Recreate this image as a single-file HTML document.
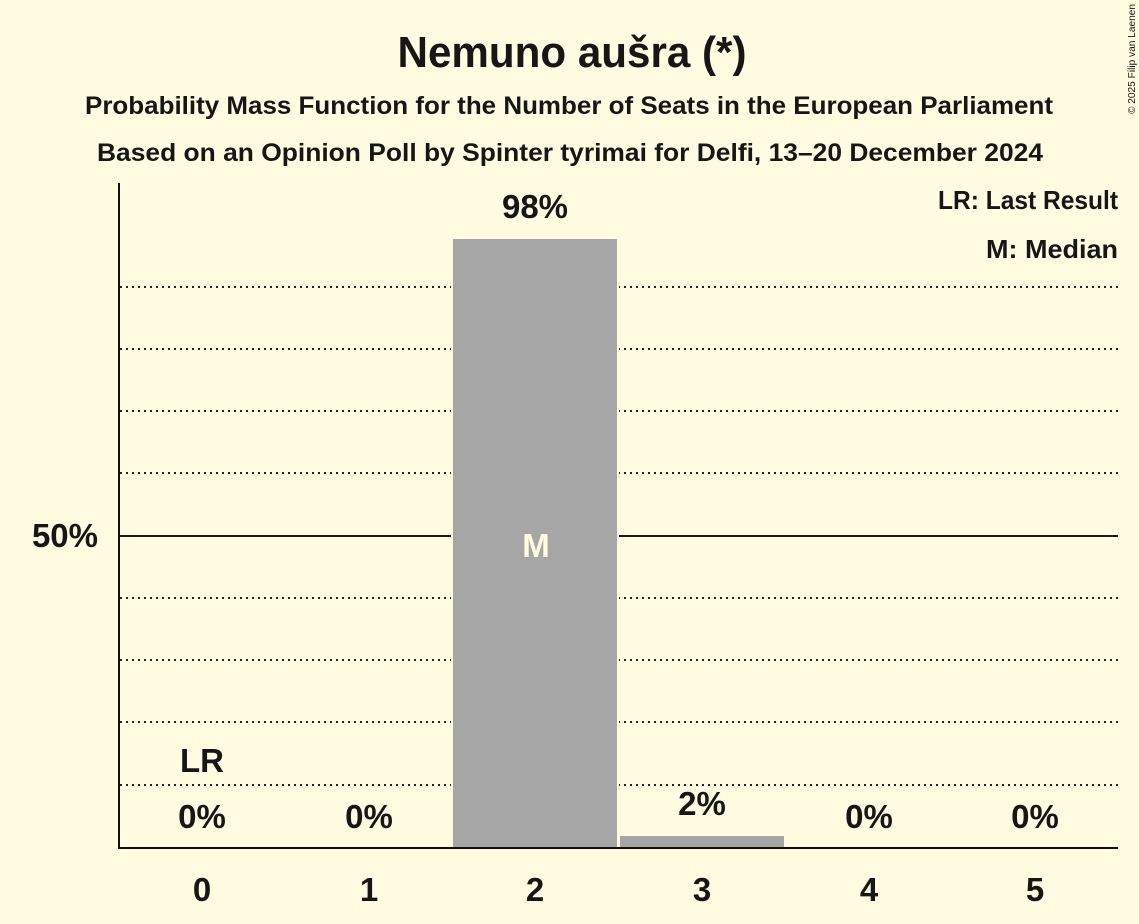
<!DOCTYPE html>
<html>
<head>
<meta charset="utf-8">
<style>
  html, body { margin:0; padding:0; background:#FFFCE1; }
  svg { display:block; }
  text { font-family: "Liberation Sans", "DejaVu Sans", sans-serif; font-weight:bold; fill:#161616; }
</style>
</head>
<body>
<svg width="1139" height="924" viewBox="0 0 1139 924" xmlns="http://www.w3.org/2000/svg">
  <rect x="0" y="0" width="1139" height="924" fill="#FFFCE1"/>

  <!-- Titles -->
  <text x="572" y="67" font-size="44" text-anchor="middle" textLength="349" lengthAdjust="spacingAndGlyphs">Nemuno aušra (*)</text>
  <text x="569" y="114" font-size="25" text-anchor="middle" textLength="968" lengthAdjust="spacingAndGlyphs">Probability Mass Function for the Number of Seats in the European Parliament</text>
  <text x="570" y="161" font-size="25" text-anchor="middle" textLength="946" lengthAdjust="spacingAndGlyphs">Based on an Opinion Poll by Spinter tyrimai for Delfi, 13–20 December 2024</text>

  <!-- copyright -->
  <text x="0" y="0" font-size="10" style="font-weight:normal" fill="#555" transform="translate(1135,114) rotate(-90)" textLength="110" lengthAdjust="spacingAndGlyphs">© 2025 Filip van Laenen</text>

  <!-- dotted gridlines -->
  <g stroke="#222" stroke-width="2" stroke-dasharray="2,4">
    <line x1="120" y1="287" x2="1118" y2="287"/>
    <line x1="120" y1="349" x2="1118" y2="349"/>
    <line x1="120" y1="411" x2="1118" y2="411"/>
    <line x1="120" y1="473" x2="1118" y2="473"/>
    <line x1="120" y1="598" x2="1118" y2="598"/>
    <line x1="120" y1="660" x2="1118" y2="660"/>
    <line x1="120" y1="722" x2="1118" y2="722"/>
    <line x1="120" y1="785" x2="1118" y2="785"/>
  </g>
  <!-- 50% line -->
  <line x1="120" y1="536" x2="1118" y2="536" stroke="#1a1a1a" stroke-width="2"/>

  <!-- bars -->
  <rect x="453" y="239" width="164" height="609" fill="#A6A6A6" stroke="#FFFCE1" stroke-width="4"/>
  <rect x="620" y="836" width="164" height="12" fill="#A6A6A6" stroke="#FFFCE1" stroke-width="4"/>
  <rect x="453" y="239" width="164" height="609" fill="#A6A6A6"/>
  <rect x="620" y="836" width="164" height="12" fill="#A6A6A6"/>

  <!-- axes -->
  <line x1="119" y1="183" x2="119" y2="849" stroke="#111" stroke-width="2"/>
  <line x1="118" y1="848" x2="1118" y2="848" stroke="#111" stroke-width="2"/>

  <!-- y label -->
  <text x="98" y="547" font-size="33" text-anchor="end">50%</text>

  <!-- legend -->
  <text x="1118" y="209" font-size="26" text-anchor="end" textLength="180" lengthAdjust="spacingAndGlyphs">LR: Last Result</text>
  <text x="1118" y="258" font-size="26" text-anchor="end" textLength="132" lengthAdjust="spacingAndGlyphs">M: Median</text>

  <!-- bar value labels -->
  <text x="535" y="218" font-size="33" text-anchor="middle">98%</text>
  <text x="702" y="815" font-size="33" text-anchor="middle">2%</text>
  <text x="202" y="828" font-size="33" text-anchor="middle">0%</text>
  <text x="369" y="828" font-size="33" text-anchor="middle">0%</text>
  <text x="869" y="828" font-size="33" text-anchor="middle">0%</text>
  <text x="1035" y="828" font-size="33" text-anchor="middle">0%</text>
  <text x="202" y="772" font-size="33" text-anchor="middle">LR</text>
  <text x="536" y="557" font-size="33" text-anchor="middle" style="fill:#FFFCE1">M</text>

  <!-- x tick labels -->
  <text x="202" y="901" font-size="33" text-anchor="middle">0</text>
  <text x="369" y="901" font-size="33" text-anchor="middle">1</text>
  <text x="535" y="901" font-size="33" text-anchor="middle">2</text>
  <text x="702" y="901" font-size="33" text-anchor="middle">3</text>
  <text x="869" y="901" font-size="33" text-anchor="middle">4</text>
  <text x="1035" y="901" font-size="33" text-anchor="middle">5</text>
</svg>
</body>
</html>
